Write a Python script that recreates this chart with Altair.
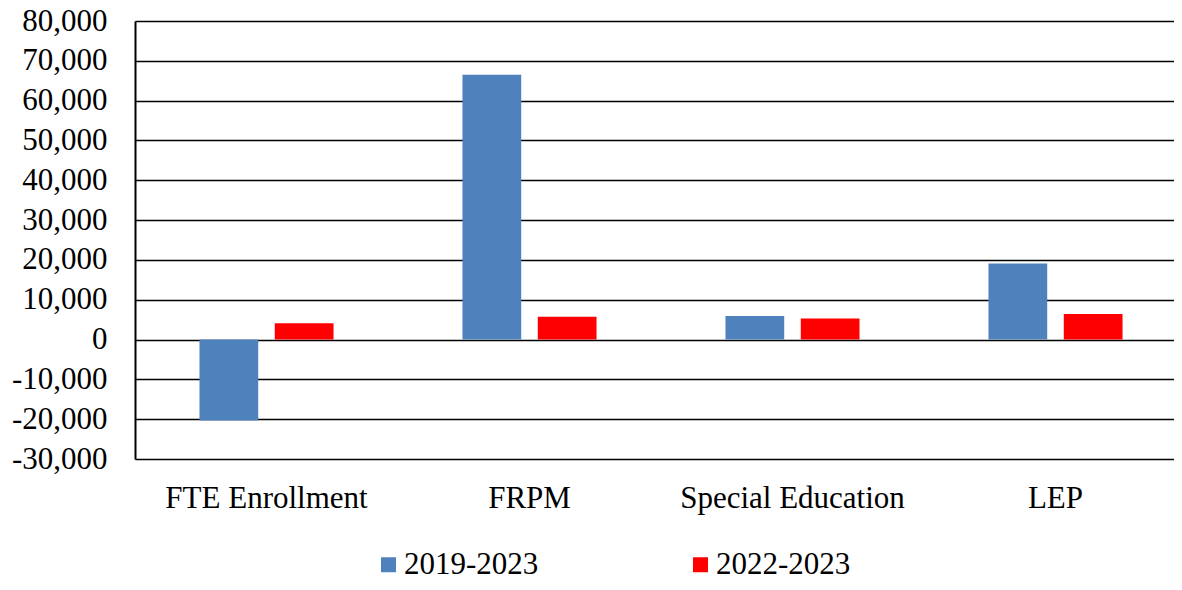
import altair as alt
import pandas as pd

categories = ["FTE Enrollment", "FRPM", "Special Education", "LEP"]
series = ["2019-2023", "2022-2023"]
values_2019_2023 = [-20300, 66500, 5900, 19100]
values_2022_2023 = [4100, 5700, 5300, 6400]
colors = ["#4F81BD", "#FF0000"]
y_ticks = list(range(-30000, 80001, 10000))

rows = []
for c, v in zip(categories, values_2019_2023):
    rows.append({"category": c, "series": series[0], "value": v})
for c, v in zip(categories, values_2022_2023):
    rows.append({"category": c, "series": series[1], "value": v})
df = pd.DataFrame(rows)

FONT = "Liberation Serif, Times New Roman, serif"
FS = 31

bars = alt.Chart(df).mark_bar().encode(
    x=alt.X("category:N", sort=categories, title=None,
            scale=alt.Scale(paddingInner=0, paddingOuter=0, range=[0, 1052]),
            axis=alt.Axis(orient="bottom", labelAngle=0, domain=False, ticks=False,
                          labelPadding=24, labelFont=FONT, labelFontSize=FS,
                          labelLimit=0, labelColor="black", grid=False)),
    xOffset=alt.XOffset("series:N", sort=series,
                        scale=alt.Scale(paddingInner=0.22, paddingOuter=0.856)),
    y=alt.Y("value:Q", title=None,
            scale=alt.Scale(domain=[-30000, 80000], nice=False, zero=False),
            axis=alt.Axis(values=y_ticks,
                          labelExpr="replace(format(datum.value, ',.0f'), '\u2212', '-')",
                          labelFont=FONT, labelFontSize=FS,
                          labelColor="black", ticks=False, labelPadding=28,
                          domain=True, domainColor="black", domainWidth=2,
                          grid=True, gridColor="black", gridWidth=1.5, gridOpacity=1)),
    color=alt.Color("series:N", sort=series,
                    scale=alt.Scale(domain=series, range=colors),
                    legend=alt.Legend(title=None, orient="none", direction="horizontal",
                                      legendX=238, legendY=528, padding=0,
                                      symbolType="square", symbolSize=225,
                                      symbolStrokeWidth=0, symbolOpacity=1,
                                      labelFont=FONT, labelFontSize=FS, labelColor="black",
                                      columnPadding=146, labelOffset=0)),
)

chart = bars.properties(
    width=1039, height=438,
    autosize=alt.AutoSizeParams(type="none"),
    padding={"left": 127, "top": 13, "right": 0, "bottom": 123},
).configure_view(stroke=None).configure(background="white")

chart.save("out.html", embed_options={"renderer": "svg", "actions": False})
